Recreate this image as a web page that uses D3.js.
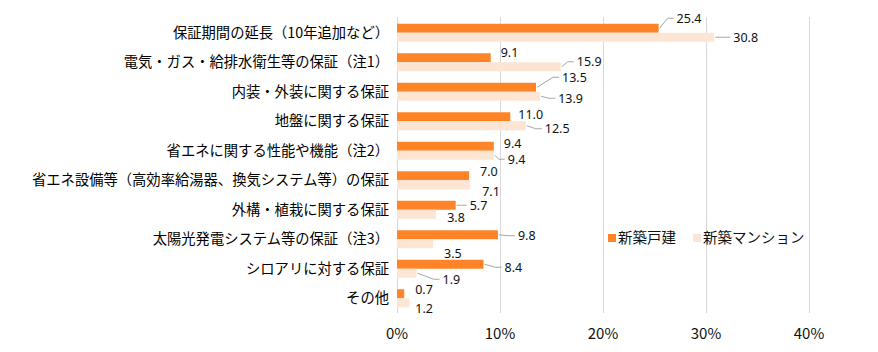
<!DOCTYPE html>
<html>
<head>
<meta charset="utf-8">
<script src="https://cdn.jsdelivr.net/npm/d3@7"></script>
<style>
  body { margin: 0; background: #fff; }
  svg { display: block; font-family: "Noto Sans CJK JP", "Noto Sans", sans-serif; }
</style>
</head>
<body>
<svg id="chart" width="878" height="352"></svg>
<script>
var categories = [
  "保証期間の延長（10年追加など）",
  "電気・ガス・給排水衛生等の保証（注1）",
  "内装・外装に関する保証",
  "地盤に関する保証",
  "省エネに関する性能や機能（注2）",
  "省エネ設備等（高効率給湯器、換気システム等）の保証",
  "外構・植栽に関する保証",
  "太陽光発電システム等の保証（注3）",
  "シロアリに対する保証",
  "その他"
];
var seriesNames = ["新築戸建", "新築マンション"];
var detached = [25.4, 9.1, 13.5, 11.0, 9.4, 7.0, 5.7, 9.8, 8.4, 0.7];
var condo = [30.8, 15.9, 13.9, 12.5, 9.4, 7.1, 3.8, 3.5, 1.9, 1.2];
var xTicks = [0, 10, 20, 30, 40];

// label placement (dx, dy from bar end, leader line or not) - hand placed like the original
var detachedLabelPos = [[18,-10,1],[10,-5,0],[26,-10,1],[8,-2,0],[10,-3,0],[11,-4,0],[14,0,1],[20,1,1],[21,3,1],[11,-4,0]];
var condoLabelPos = [[19,0,1],[16,-5,1],[18,2,1],[19,3,1],[14,4,1],[12,7,0],[11,3,0],[11,10,0],[26,6,1],[6,6,0]];

var colors = ["#FF8427", "#FDE5D3"];

var svg = d3.select("#chart");
var margin = {left: 397, top: 18, right: 69, bottom: 39};
var width = 878 - margin.left - margin.right,
    height = 352 - margin.top - margin.bottom;

var g = svg.append("g").attr("transform", "translate(" + margin.left + "," + margin.top + ")");

var x = d3.scaleLinear().domain([0, 40]).range([0, width]);
var y = d3.scaleBand().domain(categories).range([0, height]).paddingInner(0.39).paddingOuter(0.195);
var y1 = d3.scaleBand().domain([0, 1]).range([0, y.bandwidth()]);

// gridlines
g.selectAll(".grid").data(xTicks).enter().append("line")
  .attr("x1", function(d) { return x(d); })
  .attr("x2", function(d) { return x(d); })
  .attr("y1", -1).attr("y2", height)
  .attr("stroke", "#D9D9D9").attr("stroke-width", 1)
  .attr("shape-rendering", "crispEdges");

// tick labels
g.selectAll(".tick").data(xTicks).enter().append("text")
  .attr("x", function(d) { return x(d); })
  .attr("y", height + 26)
  .attr("text-anchor", "middle")
  .attr("font-size", 15).attr("fill", "#111")
  .text(function(d) { return d + "%"; });

// category labels
g.selectAll(".cat").data(categories).enter().append("text")
  .attr("x", -8)
  .attr("y", function(d) { return y(d) + y.bandwidth() / 2; })
  .attr("dy", "0.35em")
  .attr("text-anchor", "end")
  .attr("font-size", 14.3).attr("fill", "#000")
  .text(function(d) { return d; });

var series = [detached, condo];
var labelPos = [detachedLabelPos, condoLabelPos];

series.forEach(function(vals, si) {
  g.selectAll(".bar" + si).data(vals).enter().append("rect")
    .attr("x", 0)
    .attr("y", function(d, i) { return y(categories[i]) + y1(si); })
    .attr("width", function(d) { return x(d); })
    .attr("height", y1.bandwidth())
    .attr("fill", colors[si]);
});

series.forEach(function(vals, si) {
  vals.forEach(function(v, i) {
    var bx = x(v), by = y(categories[i]) + y1(si) + y1.bandwidth() / 2;
    var p = labelPos[si][i];
    var tx = bx + p[0], ty = by + p[1];
    if (p[2]) {
      var path = d3.path();
      path.moveTo(bx + 1, by);
      path.lineTo(tx - 9, ty);
      path.lineTo(tx - 3, ty);
      g.append("path").attr("d", path.toString())
        .attr("fill", "none").attr("stroke", "#A6A6A6").attr("stroke-width", 1);
    }
    g.append("text")
      .attr("x", tx).attr("y", ty).attr("dy", "0.35em")
      .attr("font-family", "'Noto Sans', sans-serif")
      .attr("font-size", 12.5).attr("fill", "#111")
      .text(d3.format(".1f")(v));
  });
});

// legend
var legend = svg.append("g").attr("transform", "translate(608,238)");
var lx = [0, 85];
seriesNames.forEach(function(name, i) {
  legend.append("rect").attr("x", lx[i]).attr("y", -4).attr("width", 8).attr("height", 8).attr("fill", colors[i]);
  legend.append("text").attr("x", lx[i] + 10).attr("y", 0).attr("dy", "0.35em")
    .attr("font-size", 14.5).attr("fill", "#111").text(name);
});
</script>
</body>
</html>
